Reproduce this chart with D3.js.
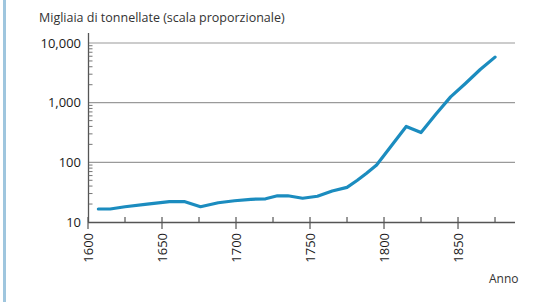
<!DOCTYPE html>
<html>
<head>
<meta charset="utf-8">
<script src="https://cdn.jsdelivr.net/npm/d3@7"></script>
<style>
  body { margin: 0; background: #fff; }
  svg { display: block; }
</style>
</head>
<body>
<div id="chart"></div>
<script>
// tonnage by year (thousands of tonnes)
var years  = [1607, 1615, 1625, 1640, 1655, 1665, 1676, 1688, 1699, 1710, 1720, 1728, 1735, 1745, 1755, 1765, 1775, 1782, 1788, 1795, 1805, 1815, 1825, 1835, 1845, 1855, 1865, 1875];
var values = [16.5, 16.5, 18, 20, 22, 22, 18, 21, 22.7, 24, 24.5, 27.5, 27.5, 25, 27, 33, 38, 50, 65, 90, 190, 400, 315, 640, 1250, 2100, 3600, 5800];
var yTicks = [10, 100, 1000, 10000];
var xMajor = [1600, 1650, 1700, 1750, 1800, 1850];
var xMinor = [1625, 1675, 1725, 1775, 1825, 1875];

var width = 539, height = 302;
var svg = d3.select("#chart").append("svg")
    .attr("width", width)
    .attr("height", height);

svg.append("rect").attr("width", width).attr("height", height).attr("fill", "#fff");
// blue edge on the left
svg.append("rect").attr("x", 3).attr("y", 0).attr("width", 3).attr("height", height).attr("fill", "#9fc6de");

var x = d3.scaleLinear().domain([1600, 1888.5]).range([88, 515]);
var y = d3.scaleLog().domain([10, 10000]).range([222, 43]);

var fontFam = "'Open Sans', 'Liberation Sans', Arial, sans-serif";

// grid lines
svg.selectAll(".grid")
  .data(yTicks.slice(1))
  .enter().append("line")
    .attr("x1", 88).attr("x2", 515)
    .attr("y1", function(d) { return y(d); })
    .attr("y2", function(d) { return y(d); })
    .style("stroke", "#9a9a9a")
    .style("stroke-width", 1.2);

// y axis line + minor log ticks
svg.append("line")
  .attr("x1", 88.5).attr("x2", 88.5)
  .attr("y1", 33).attr("y2", 222)
  .style("stroke", "#555").style("stroke-width", 1.3);

var minor = [];
[10, 100, 1000].forEach(function(b) {
  for (var k = 2; k <= 9; k++) minor.push(b * k);
});
svg.selectAll(".ytick")
  .data(minor)
  .enter().append("line")
    .attr("x1", 88.5).attr("x2", 92.5)
    .attr("y1", function(d) { return y(d); })
    .attr("y2", function(d) { return y(d); })
    .style("stroke", "#666").style("stroke-width", 0.9);

svg.selectAll(".ylab")
  .data(yTicks)
  .enter().append("text")
    .attr("x", 81)
    .attr("y", function(d) { return y(d); })
    .attr("dy", "0.35em")
    .style("text-anchor", "end")
    .style("font-family", fontFam)
    .style("font-size", "13px")
    .style("fill", "#1a1a1a")
    .text(function(d) { return d3.format(",")(d); });

// x axis
svg.append("line")
  .attr("x1", 88).attr("x2", 515)
  .attr("y1", 222.5).attr("y2", 222.5)
  .style("stroke", "#555").style("stroke-width", 1.6);

svg.selectAll(".xmaj")
  .data(xMajor)
  .enter().append("line")
    .attr("x1", function(d) { return x(d); })
    .attr("x2", function(d) { return x(d); })
    .attr("y1", 217).attr("y2", 229)
    .style("stroke", "#555").style("stroke-width", 1.2);

svg.selectAll(".xmin")
  .data(xMinor)
  .enter().append("line")
    .attr("x1", function(d) { return x(d); })
    .attr("x2", function(d) { return x(d); })
    .attr("y1", 217).attr("y2", 222)
    .style("stroke", "#555").style("stroke-width", 1.2);

svg.selectAll(".xlab")
  .data(xMajor)
  .enter().append("text")
    .attr("transform", function(d) { return "translate(" + x(d) + ",233) rotate(-90)"; })
    .attr("dy", "0.35em")
    .style("text-anchor", "end")
    .style("font-family", fontFam)
    .style("font-size", "13px")
    .style("fill", "#1a1a1a")
    .text(function(d) { return d; });

// the series
var line = d3.line()
  .x(function(d, i) { return x(years[i]); })
  .y(function(d) { return y(d); })
  .curve(d3.curveLinear);

svg.append("path")
  .datum(values)
  .attr("d", line)
  .style("fill", "none")
  .style("stroke", "#1b8cbf")
  .style("stroke-width", 3.2)
  .style("stroke-linejoin", "round")
  .style("stroke-linecap", "round");

// titles
svg.append("text")
  .attr("x", 39).attr("y", 22)
  .style("font-family", fontFam)
  .style("font-size", "12.5px")
  .style("fill", "#333")
  .text("Migliaia di tonnellate (scala proporzionale)");

svg.append("text")
  .attr("x", 489).attr("y", 283)
  .style("font-family", fontFam)
  .style("font-size", "12px")
  .style("fill", "#333")
  .text("Anno");
</script>
</body>
</html>
